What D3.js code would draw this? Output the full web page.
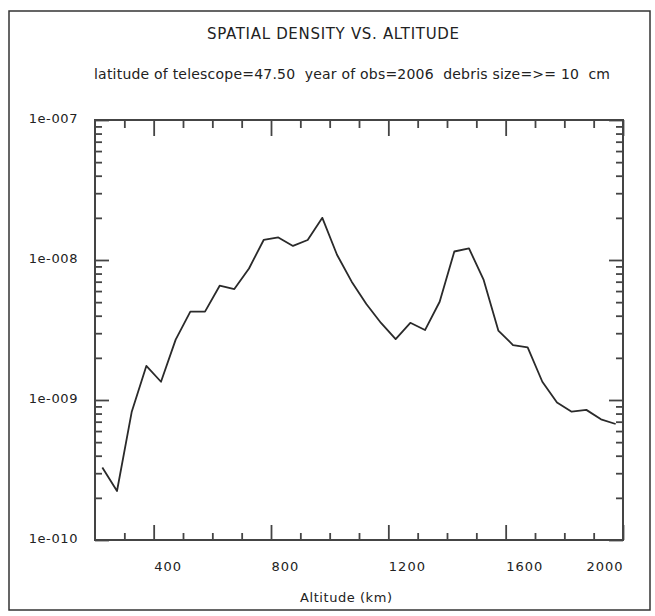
<!DOCTYPE html>
<html>
<head>
<meta charset="utf-8">
<script src="https://cdn.jsdelivr.net/npm/d3@7"></script>
<style>
  body { margin: 0; background: #fff; }
  text { font-family: "DejaVu Sans", Verdana, sans-serif; fill: #222; }
</style>
</head>
<body>
<div id="chart"></div>
<script>
// altitude bins (km) and spatial density
var altitude = [225,275,325,375,425,475,525,575,625,675,725,775,825,875,925,975,1025,1075,1125,1175,
                1225,1275,1325,1375,1425,1475,1525,1575,1625,1675,1725,1775,1825,1875,1925,1975];
var density = [3.3e-10,2.24e-10,8.2e-10,1.75e-9,1.35e-9,2.7e-9,4.28e-9,4.28e-9,6.55e-9,6.2e-9,8.7e-9,1.39e-8,
               1.45e-8,1.26e-8,1.39e-8,2.0e-8,1.09e-8,7.0e-9,4.85e-9,3.55e-9,2.72e-9,3.56e-9,3.16e-9,5.03e-9,
               1.15e-8,1.21e-8,7.2e-9,3.13e-9,2.47e-9,2.38e-9,1.35e-9,9.6e-10,8.25e-10,8.5e-10,7.28e-10,6.74e-10];
var xMajor = [400,800,1200,1600,2000];
var xMinor = [300,500,600,700,900,1000,1100,1300,1400,1500,1700,1800,1900];
var yMajor = [1e-10,1e-9,1e-8,1e-7];

var title = "SPATIAL DENSITY VS. ALTITUDE";
var subtitle = "latitude of telescope=47.50  year of obs=2006  debris size=>= 10  cm";
var xTitle = "Altitude (km)";

var W = 655, H = 616;
var margin = {top: 120, right: 32, bottom: 76, left: 95},
    width = W - margin.left - margin.right,
    height = H - margin.top - margin.bottom;

var svg = d3.select("#chart").append("svg")
    .attr("width", W)
    .attr("height", H);

// outer frame
svg.append("rect")
    .attr("x", 9).attr("y", 11)
    .attr("width", 641).attr("height", 599)
    .attr("fill", "none").attr("stroke", "#333").attr("stroke-width", 1.5);

svg.append("text")
    .attr("x", 333).attr("y", 39)
    .attr("text-anchor", "middle")
    .attr("font-size", 15)
    .attr("textLength", 252).attr("lengthAdjust", "spacing")
    .text(title);

svg.append("text")
    .attr("x", 352).attr("y", 78.5)
    .attr("text-anchor", "middle")
    .attr("font-size", 14)
    .style("white-space", "pre")
    .attr("textLength", 516).attr("lengthAdjust", "spacing")
    .text(subtitle);

var g = svg.append("g")
    .attr("transform", `translate(${margin.left},${margin.top})`);

var xScale = d3.scaleLinear().domain([200, 2000]).range([0, width]);
var yScale = d3.scaleLog().domain([1e-10, 1e-7]).range([height, 0]);

// minor y ticks 2..9 in each decade
var yMinor = [];
yMajor.slice(0, -1).forEach(function(d) {
    for (var k = 2; k <= 9; k++) yMinor.push(d * k);
});

function expLabel(d) {
    var e = Math.round(Math.log10(d));
    return "1e-" + String(-e).padStart(3, "0");
}

function styleAxis(sel) {
    sel.select(".domain").remove();
    sel.selectAll(".tick line").attr("stroke", "#444").attr("stroke-width", 1.8);
}

// bottom
g.append("g").attr("transform", `translate(0,${height})`)
    .call(d3.axisBottom(xScale).tickValues(xMinor).tickSize(-7).tickFormat(""))
    .call(styleAxis);
var bx = g.append("g").attr("transform", `translate(0,${height})`)
    .call(d3.axisBottom(xScale).tickValues(xMajor).tickSize(-15).tickPadding(22).tickFormat(d3.format("d")))
    .call(styleAxis);
bx.selectAll("text")
    .attr("font-size", 13)
    .attr("letter-spacing", 1)
    .attr("fill", "#222")
    .attr("text-anchor", (d, i) => i === xMajor.length - 1 ? "end" : "start");

// top
g.append("g")
    .call(d3.axisTop(xScale).tickValues(xMinor).tickSize(-8).tickFormat(""))
    .call(styleAxis);
g.append("g")
    .call(d3.axisTop(xScale).tickValues(xMajor).tickSize(-16).tickFormat(""))
    .call(styleAxis);

// left
g.append("g")
    .call(d3.axisLeft(yScale).tickValues(yMinor).tickSize(-7).tickFormat(""))
    .call(styleAxis);
var ly = g.append("g")
    .call(d3.axisLeft(yScale).tickValues(yMajor).tickSize(-14).tickPadding(17).tickFormat(expLabel))
    .call(styleAxis);
ly.selectAll("text")
    .attr("font-size", 13)
    .attr("letter-spacing", 0.6)
    .attr("fill", "#222")
    .attr("dy", "0.2em");

// right
g.append("g").attr("transform", `translate(${width},0)`)
    .call(d3.axisRight(yScale).tickValues(yMinor).tickSize(-7).tickFormat(""))
    .call(styleAxis);
g.append("g").attr("transform", `translate(${width},0)`)
    .call(d3.axisRight(yScale).tickValues(yMajor).tickSize(-14).tickFormat(""))
    .call(styleAxis);

// plot box
g.append("rect")
    .attr("width", width).attr("height", height)
    .attr("fill", "none").attr("stroke", "#444").attr("stroke-width", 2);

var line = d3.line()
    .x((d, i) => xScale(altitude[i]))
    .y(d => yScale(d));

g.append("path")
    .datum(density)
    .attr("d", line)
    .attr("fill", "none")
    .attr("stroke", "#2a2a2a")
    .attr("stroke-width", 1.8)
    .attr("stroke-linejoin", "round");

svg.append("text")
    .attr("x", 346).attr("y", 602)
    .attr("text-anchor", "middle")
    .attr("font-size", 13)
    .attr("textLength", 92).attr("lengthAdjust", "spacing")
    .text(xTitle);
</script>
</body>
</html>
